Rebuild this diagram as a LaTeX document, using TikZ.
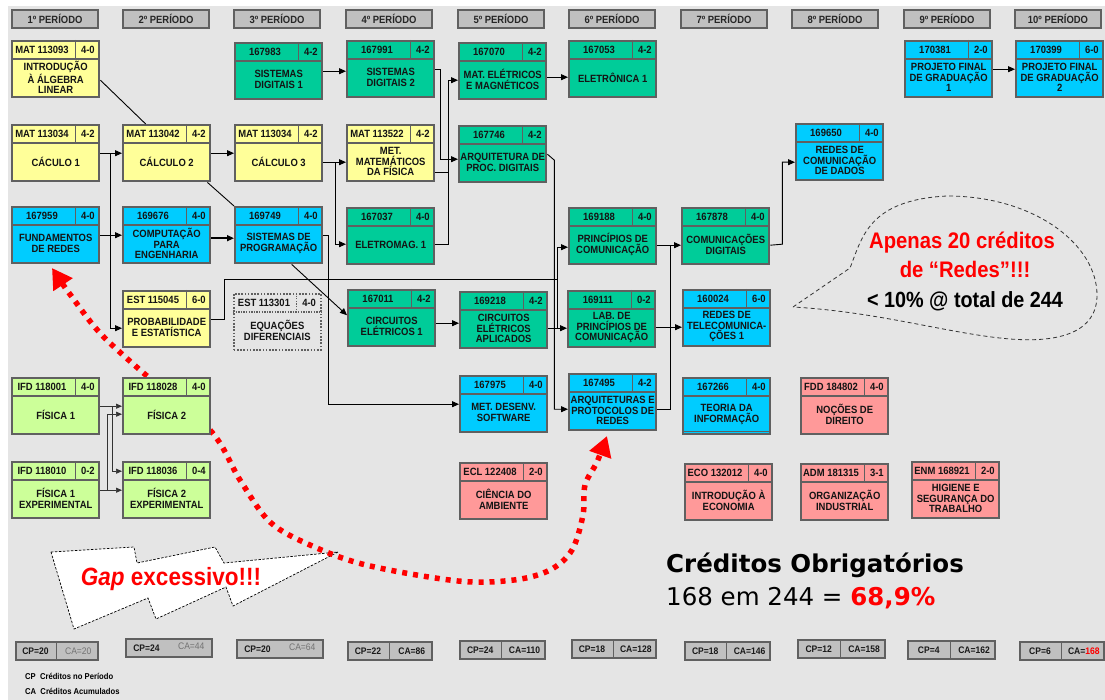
\documentclass[tikz,border=0pt]{standalone}
\usepackage{fontspec}
\setmainfont{Liberation Sans}
\newfontfamily\nar[FakeStretch=0.9]{Liberation Sans}
\newfontfamily\dvs{DejaVu Sans}
\usetikzlibrary{arrows.meta,calc}
\definecolor{bg}{RGB}{229,229,229}
\definecolor{bordc}{RGB}{96,96,96}
\definecolor{yel}{RGB}{255,255,153}
\definecolor{grn}{RGB}{0,204,153}
\definecolor{blu}{RGB}{0,204,255}
\definecolor{lgr}{RGB}{204,255,153}
\definecolor{pnk}{RGB}{255,153,153}
\definecolor{hdr}{RGB}{192,192,192}
\definecolor{bred}{RGB}{255,0,0}
\newcommand\crs[7]{%
  \node[cbox, fill=#4] (#1) at (#2,#3) {};
  \draw[cell] ([yshift=-19pt]#1.north west) -- ([yshift=-19pt]#1.north east);
  \draw[cell] ([xshift=-25pt]#1.north east) -- ([xshift=-25pt,yshift=-19pt]#1.north east);
  \node[ctext] (#1-c) at ([xshift=31pt,yshift=-10pt]#1.north west) {#5};
  \node[ctext] (#1-r) at ([xshift=-12.5pt,yshift=-10pt]#1.north east) {#6};
  \node[btext] (#1-t) at ([yshift=-37.5pt]#1.north) {#7};
}
\newcommand\cpb[7]{% name x y w cp ca style
  \node[cpbox, minimum width=#4pt] (#1) at (#2,#3) {};
  \node[cptext] (#1-p) at ([xshift=#4pt*0.25]#1.west) {#5};
  \node[cptext, #7] (#1-a) at ([xshift=-#4pt*0.25]#1.east) {#6};
}
\begin{document}
\begin{tikzpicture}[x=1pt,y=-1pt,
  cbox/.style={draw=bordc, line width=2.4pt, minimum width=87pt, minimum height=56pt, inner sep=0pt, anchor=north west},
  cell/.style={draw=bordc, line width=1.6pt},
  ctext/.style={font=\nar\bfseries\fontsize{10.5}{10.5}\selectfont, inner sep=0pt, text=black!92},
  btext/.style={ctext, align=center},
  phdr/.style={draw=bordc, line width=2pt, fill=hdr, minimum width=86pt, minimum height=18pt, inner sep=0pt, anchor=north west, font=\nar\bfseries\fontsize{10.5}{11}\selectfont, text=black!85},
  cpbox/.style={draw=bordc, line width=1.8pt, fill=hdr, minimum height=18pt, inner sep=0pt, anchor=north west},
  cptext/.style={font=\nar\bfseries\fontsize{9.5}{10}\selectfont, inner sep=0pt, text=black!90},
  ar/.style={-{Triangle[length=7pt,width=6pt]}, line width=0.9pt, black},
  thin/.style={-{Triangle[length=6pt,width=5pt]}, line width=0.7pt, black!80},
  ln/.style={line width=0.9pt, black},
  redpath/.style={bred, line width=5.5pt, dash pattern=on 5pt off 6pt}
]
\useasboundingbox (0,0) rectangle (1105,700);
\fill[white] (0,0) rectangle (1105,700);
\fill[bg] (8,6) rectangle (1105,700);

% period headers
\foreach \i/\x in {1/11,2/122,3/233,4/345,5/457,6/568,7/680,8/791,9/903,10/1014}
  {\node[phdr] (p\i) at (\x,9) {\i º PERÍODO};}

% callout "Gap excessivo"
\draw[black, line width=0.7pt, dash pattern=on 2.5pt off 1.5pt, fill=white]
  (51,552) -- (134,547) -- (137,563) -- (215,547) -- (224,563) -- (338,552)
  -- (233,606) -- (226,587) -- (156,619) -- (148,598) -- (74,629) -- cycle;
\node[anchor=base, inner sep=0pt, text=bred, font=\nar\bfseries\fontsize{25}{25}\selectfont] (gap) at (171,585) {\textit{Gap} excessivo!!!};

% red dotted curve
\draw[redpath, {Triangle[length=20pt,width=22pt]}-{Triangle[length=20pt,width=22pt]}]
  plot[smooth, tension=0.55] coordinates {(52,268) (72,297) (100,333) (140,370) (210,430) (240,480) (270,522) (310,545) (366,565) (458,581) (514,580) (550,570) (572,550) (583,515) (585,485) (597,462) (607,436)};

% courses
\crs{intro}{11}{40}{yel}{MAT 113093}{4-0}{INTRODUÇÃO\\À ÁLGEBRA\\LINEAR}
\crs{calc1}{11}{124}{yel}{MAT 113034}{4-2}{CÁCULO 1}
\crs{fund}{11}{206}{blu}{167959}{4-0}{FUNDAMENTOS\\DE REDES}
\crs{fis1}{11}{377}{lgr}{IFD 118001}{4-0}{FÍSICA 1}
\crs{fisx1}{11}{461}{lgr}{IFD 118010}{0-2}{FÍSICA 1\\EXPERIMENTAL}
\crs{calc2}{122}{124}{yel}{MAT 113042}{4-2}{CÁLCULO 2}
\crs{comp}{122}{206}{blu}{169676}{4-0}{COMPUTAÇÃO\\PARA\\ENGENHARIA}
\crs{prob}{122}{290}{yel}{EST 115045}{6-0}{PROBABILIDADE\\E ESTATÍSTICA}
\crs{fis2}{122}{377}{lgr}{IFD 118028}{4-0}{FÍSICA 2}
\crs{fisx2}{122}{461}{lgr}{IFD 118036}{0-4}{FÍSICA 2\\EXPERIMENTAL}
\crs{sd1}{234}{42}{grn}{167983}{4-2}{SISTEMAS\\DIGITAIS 1}
\crs{calc3}{234}{124}{yel}{MAT 113034}{4-2}{CÁLCULO 3}
\crs{sisprog}{234}{206}{blu}{169749}{4-0}{SISTEMAS DE\\PROGRAMAÇÃO}
\crs{sd2}{346}{40}{grn}{167991}{4-2}{SISTEMAS\\DIGITAIS 2}
\crs{metmat}{346}{124}{yel}{MAT 113522}{4-2}{MET.\\MATEMÁTICOS\\DA FÍSICA}
\crs{eletromag}{346}{207}{grn}{167037}{4-0}{ELETROMAG. 1}
\crs{circ1}{347}{289}{grn}{167011}{4-2}{CIRCUITOS\\ELÉTRICOS 1}
\crs{matel}{458}{42}{grn}{167070}{4-2}{MAT. ELÉTRICOS\\E MAGNÉTICOS}
\crs{arqproc}{458}{125}{grn}{167746}{4-2}{ARQUITETURA DE\\PROC. DIGITAIS}
\crs{circap}{459}{291}{grn}{169218}{4-2}{CIRCUITOS\\ELÉTRICOS\\APLICADOS}
\crs{metdes}{459}{375}{blu}{167975}{4-0}{MET. DESENV.\\SOFTWARE}
\crs{cienamb}{459}{462}{pnk}{ECL 122408}{2-0}{CIÊNCIA DO\\AMBIENTE}
\crs{eletron}{568}{40}{grn}{167053}{4-2}{ELETRÔNICA 1}
\crs{princ}{568}{207}{grn}{169188}{4-0}{PRINCÍPIOS DE\\COMUNICAÇÃO}
\crs{lab}{567}{290}{grn}{169111}{0-2}{LAB. DE\\PRINCÍPIOS DE\\COMUNICAÇÃO}
\crs{arqprot}{568}{373}{blu}{167495}{4-2}{ARQUITETURAS E\\PROTOCOLOS DE\\REDES}
\crs{comdig}{681}{207}{grn}{167878}{4-0}{COMUNICAÇÕES\\DIGITAIS}
\crs{telecom}{682}{289}{blu}{160024}{6-0}{REDES DE\\TELECOMUNICA-\\ÇÕES 1}
\crs{teoinf}{682}{377}{blu}{167266}{4-0}{TEORIA DA\\INFORMAÇÃO}
\draw[cell, line width=1pt] ([yshift=4pt]teoinf.south west) -- ([yshift=4pt]teoinf.south east);
\crs{introeco}{684}{463}{pnk}{ECO 132012}{4-0}{INTRODUÇÃO À\\ECONOMIA}
\crs{redes}{795}{123}{blu}{169650}{4-0}{REDES DE\\COMUNICAÇÃO\\DE DADOS}
\crs{nocdir}{800}{377}{pnk}{FDD 184802}{4-0}{NOÇÕES DE\\DIREITO}
\crs{orgind}{800}{463}{pnk}{ADM 181315}{3-1}{ORGANIZAÇÃO\\INDUSTRIAL}
\crs{pfg1}{904}{40}{blu}{170381}{2-0}{PROJETO FINAL\\DE GRADUAÇÃO\\1}
\crs{higiene}{911}{461}{pnk}{ENM 168921}{2-0}{HIGIENE E\\SEGURANÇA DO\\TRABALHO}
\crs{pfg2}{1015}{40}{blu}{170399}{6-0}{PROJETO FINAL\\DE GRADUAÇÃO\\2}

% dotted elective box
\node[cbox, draw=bordc, line width=1.6pt, dash pattern=on 1.6pt off 1.6pt] (eqdif) at (233,293) {};
\draw[bordc, line width=1.3pt, dash pattern=on 1.3pt off 1.3pt] ([yshift=-19pt]eqdif.north west) -- ([yshift=-19pt]eqdif.north east);
\draw[bordc, line width=1.3pt, dash pattern=on 1.3pt off 1.3pt] ([xshift=-25pt]eqdif.north east) -- ([xshift=-25pt,yshift=-19pt]eqdif.north east);
\node[ctext] (eqdif-c) at ([xshift=31pt,yshift=-10pt]eqdif.north west) {EST 113301};
\node[ctext] (eqdif-r) at ([xshift=-12.5pt,yshift=-10pt]eqdif.north east) {4-0};
\node[btext] (eqdif-t) at ([yshift=-37.5pt]eqdif.north) {EQUAÇÕES\\DIFERENCIAIS};

% connectors
\draw[ln] ([yshift=-11pt]intro.east) -- ([xshift=-21pt]calc2.north);
\draw[ar] (calc1.east) -- (calc2.west);
\draw[ar] (calc1.east) -- ++(10,0) |- ([yshift=-9pt]prob.west);
\draw[ar] (fund.east) -- (comp.west);
\draw[ar] (calc2.east) -- (calc2.east -| calc3.west);
\draw[ln] ([xshift=-4pt]calc2.south east) -- (sisprog.north west);
\draw[ar, line width=1.4pt] ([yshift=-3pt]comp.east) -- ([yshift=-3pt]comp.east -| sisprog.west);
\draw[ar] ([yshift=-9pt]calc3.east) -- ([yshift=-9pt]metmat.west);
\draw[ar] ([yshift=-9pt]calc3.east) -- ++(12,0) |- ([yshift=-8pt]eletromag.west);
\draw[ar] (sd1.east) -- (sd1.east -| sd2.west);
\draw[ar] (sd2.east) -- ++(5,0) |- ([yshift=-5pt]arqproc.west);
\draw[ar] ([yshift=-8pt]eletromag.east) -- ++(13,0) |- ([yshift=-9pt]matel.west);
\draw[ln] ([yshift=-19pt]metmat.east) -- ++(13,0);
\draw[ar] ([yshift=-6pt]matel.east) -- ([yshift=-6pt]matel.east -| eletron.west);
\draw[ar] (arqproc.east) -- ++(7,6) |- ([yshift=-7pt]arqprot.west);
\coordinate (pj) at (557,279);
\draw[ar] (prob.east) -- ++(13,0) |- (pj) |- ([yshift=-11pt]princ.west);
\draw[ln] (pj) -- ([yshift=-8pt]circap.east -| pj);
\draw[ar] ([yshift=-8pt]circap.east) -- ([yshift=-8pt]circap.east -| lab.west);
\draw[ar] ([yshift=-9pt]princ.east) -- ([yshift=-9pt]princ.east -| comdig.west);
\draw[ln] ([yshift=-7pt]arqprot.east) -| ([xshift=13pt,yshift=-9pt]princ.east);
\draw[ar] ([yshift=-8pt]lab.east) -- ([yshift=-8pt]lab.east -| telecom.west);
\draw[ar] ([yshift=-9pt]comdig.east) -- ++(12,-1) |- ([yshift=-10pt]redes.west);
\draw[ar] ([xshift=13pt]sisprog.south) -- ([yshift=3pt]circ1.west);
\draw[ar] (sisprog.east) -- ++(5,0) |- (metdes.west);
\draw[ar] ([yshift=-5pt]circ1.east) -- ([yshift=-5pt]circ1.east -| circap.west);
\draw[thin] (fis1.east) -- (fis2.west);
\draw[thin] (fis1.east) -- ++(12,0) |- ([yshift=19pt]fisx2.west);
\draw[thin] (fisx1.east) -- (fisx2.west);
\draw[thin] (fisx1.east) -- ++(7,0) |- ([yshift=-8pt]fis2.west);
\draw[ar] (pfg1.east) -- (pfg2.west);

% speech bubble
\draw[black!80, line width=0.8pt, dash pattern=on 4pt off 3pt]
  (793,307) -- (850,268) .. controls (862,238) and (868,200) .. (947,196)
  .. controls (1035,196) and (1097,245) .. (1097,295)
  .. controls (1097,332) and (1060,343) .. (1010,339)
  .. controls (950,334) and (880,312) .. (793,307);
\node[anchor=base, inner sep=0pt, text=bred, font=\nar\bfseries\fontsize{22.5}{23}\selectfont] (ap1) at (962,249) {Apenas 20 créditos};
\node[anchor=base, inner sep=0pt, text=bred, font=\nar\bfseries\fontsize{22.5}{23}\selectfont] (ap2) at (965,278) {de “Redes”!!!};
\node[anchor=base, inner sep=0pt, text=black, font=\nar\bfseries\fontsize{22}{23}\selectfont] (ap3) at (965,308) {< 10\% @ total de 244};

% totals
\node[anchor=base west, inner sep=0pt, font=\dvs\bfseries\fontsize{24.5}{25}\selectfont] (cob) at (666,572) {Créditos Obrigatórios};
\node[anchor=base west, inner sep=0pt, font=\dvs\fontsize{24.5}{25}\selectfont] (cob2) at (666,605) {168 em 244 = {\bfseries\color{bred}68,9\%}};

% CP / CA boxes
\cpb{b1}{15}{641}{82}{CP=20}{CA=20}{text=black!55, font=\nar\fontsize{9.5}{10}\selectfont}
\cpb{b2}{125}{638}{86}{CP=24}{CA=44}{text=black!55, font=\nar\fontsize{9.5}{10}\selectfont, yshift=2pt}
\cpb{b3}{236}{639}{86}{CP=20}{CA=64}{text=black!55, font=\nar\fontsize{9.5}{10}\selectfont, yshift=2pt}
\cpb{b4}{347}{641}{84}{CP=22}{CA=86}{}
\cpb{b5}{459}{640}{85}{CP=24}{CA=110}{}
\cpb{b6}{571}{639}{84}{CP=18}{CA=128}{}
\cpb{b7}{684}{641}{85}{CP=18}{CA=146}{}
\cpb{b8}{797}{639}{87}{CP=12}{CA=158}{}
\cpb{b9}{907}{640}{87}{CP=4}{CA=162}{}
\cpb{b10}{1019}{641}{84}{CP=6}{CA={\color{bred}168}}{}
\foreach \b/\w in {b1/82,b4/84,b5/85,b6/84,b7/85,b8/87,b9/87,b10/84}
  {\draw[bordc, line width=1pt] ([xshift=\w pt*0.5]\b.north west) -- ([xshift=\w pt*0.5]\b.south west);}

% legend
\node[anchor=base west, inner sep=0pt, font=\nar\bfseries\fontsize{8.5}{9}\selectfont] (lg1) at (25,679) {CP\ \ Créditos no Período};
\node[anchor=base west, inner sep=0pt, font=\nar\bfseries\fontsize{8.5}{9}\selectfont] (lg2) at (25,694) {CA\ \ Créditos Acumulados};
\end{tikzpicture}
\end{document}
